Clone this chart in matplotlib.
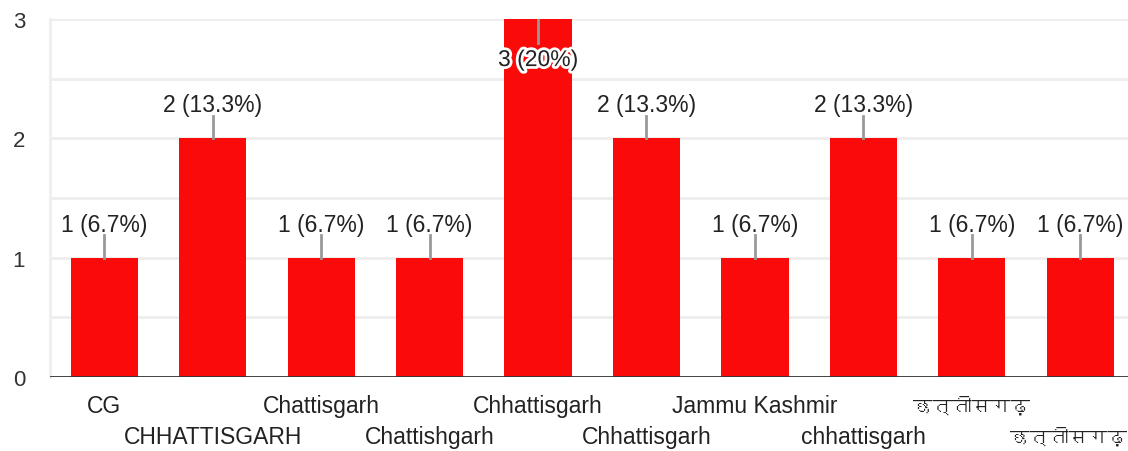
import matplotlib
matplotlib.use('Agg')
import matplotlib.pyplot as plt
import matplotlib.patheffects as pe
from matplotlib import font_manager
from matplotlib.ft2font import FT2Font
import numpy as np

# data
states = ['CG', 'CHHATTISGARH', 'Chattisgarh', 'Chattishgarh', 'Chhattisgarh',
          'Chhattisgarh ', 'Jammu Kashmir', 'chhattisgarh', 'छत्तीसगढ़', 'छत्तीसगढ़ ']
counts = [1, 2, 1, 1, 3, 2, 1, 2, 1, 1]
total = 15

# look for a font that can draw devanagari
deva = None
for f in font_manager.fontManager.ttflist:
    try:
        cm = FT2Font(f.fname).get_charmap()
    except Exception:
        continue
    if 0x091B in cm and 0x0924 in cm:
        deva = f.name
        break
fams = ['Liberation Sans'] + ([deva] if deva else []) + ['DejaVu Sans']
plt.rcParams['font.family'] = fams

fig = plt.figure(figsize=(11.28, 4.52), dpi=100)
ax = fig.add_axes([50/1128, 74/452, 1.0 - 50/1128, 358/452])

x = np.arange(len(counts))
ax.bar(x, counts, width=0.62, color='#fb0a0a', zorder=3)

ax.set_ylim(0, 3)
ax.set_xlim(-0.5, 9.44)
ax.set_yticks([0, 1, 2, 3])
ax.set_yticks([0.5, 1.5, 2.5], minor=True)
ax.tick_params(axis='y', which='both', length=0, labelsize=16, labelcolor='#333333', pad=18)
ax.tick_params(axis='x', length=0)
ax.grid(axis='y', which='both', color='#eeeeee', lw=2, zorder=0)
for s in ['top', 'right', 'bottom']:
    ax.spines[s].set_visible(False)
ax.spines['left'].set_color('#eeeeee')
ax.spines['left'].set_linewidth(2)
ax.axhline(0, color='#333333', lw=2, zorder=4)

ax.set_xticks([])
for i, s in enumerate(states):
    yoff = -29 if i % 2 == 0 else -60
    fs = 16.5
    xoff = 0
    if not s.strip().isascii():
        fs = 14
        if i == len(states) - 1:
            xoff = -12
    ax.annotate(s.strip(), (i, 0), xytext=(xoff, yoff), textcoords='offset pixels',
                ha='center', va='center', fontsize=fs, color='#222222', annotation_clip=False)

for i, c in enumerate(counts):
    lab = '%d (%s%%)' % (c, ('%.1f' % (100 * c / total)).rstrip('0').rstrip('.'))
    if c == max(counts):
        ax.plot([i, i], [c, c - 0.2], color='#999999', lw=2, zorder=5)
        t = ax.text(i, c - 0.34, lab, ha='center', va='center', fontsize=16.5, color='#222222', zorder=6)
        t.set_path_effects([pe.withStroke(linewidth=4, foreground='white')])
    else:
        ax.plot([i, i], [c, c + 0.19], color='#999999', lw=2, zorder=5)
        ax.text(i, c + 0.28, lab, ha='center', va='center', fontsize=16.5, color='#222222', zorder=6)

fig.savefig('out.png', dpi=100)
